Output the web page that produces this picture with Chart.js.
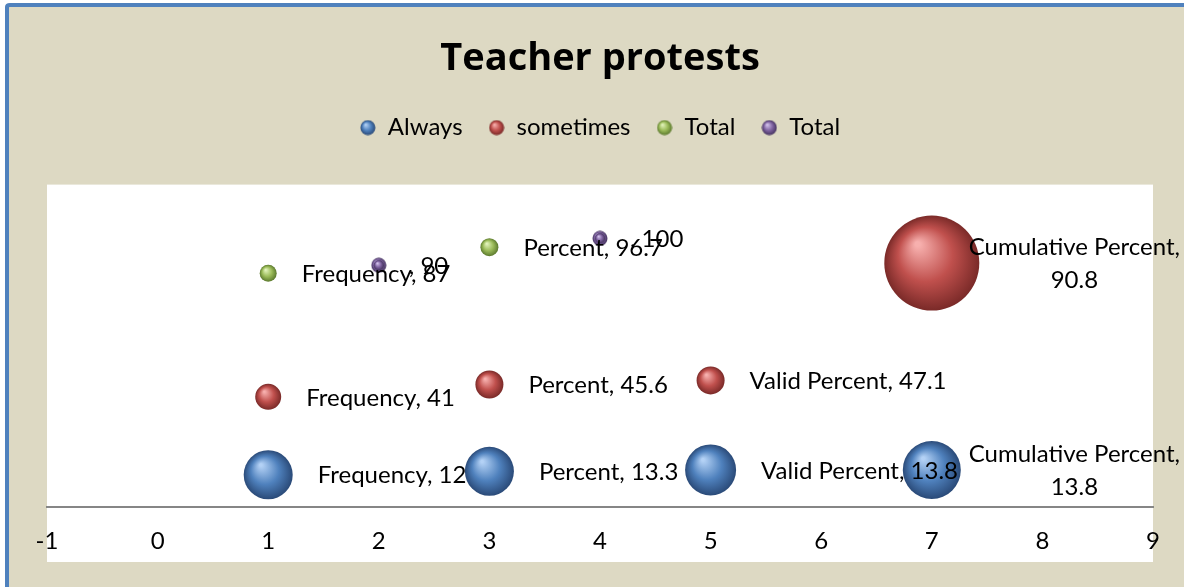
<!DOCTYPE html>
<html>
<head>
<meta charset="utf-8">
<script src="https://cdn.jsdelivr.net/npm/chart.js@4/dist/chart.umd.min.js"></script>
<style>
  html, body { margin: 0; padding: 0; background: #fff; }
  #wrap { width: 1184px; height: 587px; }
</style>
</head>
<body>
<div id="wrap"><canvas id="grafica" width="1184" height="587"></canvas></div>
<script>
// Datos
var categorias = ['Frequency', 'Percent', 'Valid Percent', 'Cumulative Percent'];
var xTicks = [-1, 0, 1, 2, 3, 4, 5, 6, 7, 8, 9];

var alwaysX = [1, 3, 5, 7];
var alwaysY = [12, 13.3, 13.8, 13.8];
var alwaysSize = [24.5, 24.5, 25.5, 29];
var alwaysLabels = ['Frequency', 'Percent', 'Valid Percent', 'Cumulative Percent'];

var sometimesX = [1, 3, 5, 7];
var sometimesY = [41, 45.6, 47.1, 90.8];
var sometimesSize = [13, 14, 14, 47.5];
var sometimesLabels = ['Frequency', 'Percent', 'Valid Percent', 'Cumulative Percent'];

var total1X = [1, 3];
var total1Y = [87, 96.7];
var total1Size = [8.5, 9];
var total1Labels = ['Frequency', 'Percent'];

var total2X = [2, 4];
var total2Y = [90, 100];
var total2Size = [5, 5];
var total2Labels = ['', ''];

var colores = {
    blue: ['#b3d1f5', '#4f81bd', '#2a4a78'],
    red: ['#f7b0ae', '#c0504d', '#7a2a28'],
    green: ['#e2f3bb', '#9bbb59', '#5c7a2e'],
    purple: ['#d3c3ec', '#8064a2', '#45335f']
};

var FUENTE = 'Lato, "Open Sans", sans-serif';
var TAM = 24;

// Construir puntos de burbuja
function puntos(xs, ys, rs, labels) {
    return xs.map(function (x, i) {
        return { x: x, y: ys[i], r: rs[i], etiqueta: labels[i] };
    });
}

// Esfera con degradado radial
function esfera(ctx, cx, cy, r, c) {
    var g = ctx.createRadialGradient(cx - r * 0.3, cy - r * 0.4, r * 0.05, cx, cy, r);
    g.addColorStop(0, c[0]);
    g.addColorStop(0.55, c[1]);
    g.addColorStop(1, c[2]);
    ctx.beginPath();
    ctx.arc(cx, cy, r, 0, Math.PI * 2);
    ctx.fillStyle = g;
    ctx.fill();
}

function iconoLeyenda(c) {
    var cv = document.createElement('canvas');
    cv.width = 16; cv.height = 16;
    esfera(cv.getContext('2d'), 8, 8, 7.5, c);
    return cv;
}

// Espacio extra debajo de la leyenda
var margenLeyenda = {
    id: 'margenLeyenda',
    beforeInit: function (chart) {
        var fit = chart.legend.fit;
        chart.legend.fit = function () {
            fit.bind(chart.legend)();
            this.height += 35;
        };
    }
};

var fondoPlugin = {
    id: 'fondo',
    beforeDraw: function (chart) {
        var ctx = chart.ctx, a = chart.chartArea;
        ctx.save();
        ctx.fillStyle = '#ffffff';
        ctx.fillRect(0, 0, chart.width, chart.height);
        ctx.fillStyle = '#ddd9c3';
        ctx.fillRect(7, 5, chart.width, chart.height);
        ctx.strokeStyle = '#4f81bd';
        ctx.lineWidth = 4;
        ctx.beginPath();
        ctx.moveTo(7, chart.height + 5);
        ctx.lineTo(7, 7);
        ctx.quadraticCurveTo(7, 5, 10, 5);
        ctx.lineTo(chart.width + 5, 5);
        ctx.stroke();
        ctx.fillStyle = '#ffffff';
        ctx.fillRect(a.left, a.top, a.right - a.left, a.bottom - a.top + 55);
        ctx.restore();
    }
};

var burbujasPlugin = {
    id: 'burbujas',
    afterDatasetsDraw: function (chart) {
        var ctx = chart.ctx;
        ctx.save();
        var orden = [3, 2, 1, 0];
        orden.forEach(function (di) {
            var meta = chart.getDatasetMeta(di);
            var c = chart.data.datasets[di].sphereColor;
            meta.data.forEach(function (el) {
                esfera(ctx, el.x, el.y, el.options.radius, c);
            });
        });
        // Etiquetas de datos
        ctx.font = TAM + 'px ' + FUENTE;
        ctx.fillStyle = '#000';
        ctx.textBaseline = 'middle';
        chart.data.datasets.forEach(function (ds, di) {
            var meta = chart.getDatasetMeta(di);
            meta.data.forEach(function (el, i) {
                var p = ds.data[i];
                var txt = p.etiqueta + ', ' + p.y;
                var x0 = el.x + el.options.radius + 25;
                var w = ctx.measureText(txt).width;
                if (x0 + w > chart.width - 4) {
                    var l1 = p.etiqueta + ',', l2 = String(p.y);
                    var mw = Math.max(ctx.measureText(l1).width, ctx.measureText(l2).width);
                    var cx = chart.width - 4 - mw / 2;
                    ctx.textAlign = 'center';
                    ctx.fillText(l1, cx, el.y - 16);
                    ctx.fillText(l2, cx, el.y + 17);
                } else {
                    ctx.textAlign = 'left';
                    ctx.fillText(txt, x0, el.y + 1);
                }
            });
        });
        ctx.restore();
    }
};

function serie(nombre, data, c) {
    return {
        label: nombre,
        data: data,
        sphereColor: c,
        backgroundColor: 'rgba(0,0,0,0)',
        borderWidth: 0,
        pointStyle: iconoLeyenda(c)
    };
}

var ctx = document.getElementById('grafica').getContext('2d');
var grafica = new Chart(ctx, {
    type: 'bubble',
    data: {
        datasets: [
            serie('Always', puntos(alwaysX, alwaysY, alwaysSize, alwaysLabels), colores.blue),
            serie('sometimes', puntos(sometimesX, sometimesY, sometimesSize, sometimesLabels), colores.red),
            serie('Total', puntos(total1X, total1Y, total1Size, total1Labels), colores.green),
            serie('Total', puntos(total2X, total2Y, total2Size, total2Labels), colores.purple)
        ]
    },
    options: {
        responsive: false,
        animation: false,
        events: [],
        layout: { autoPadding: false, padding: { left: 47, right: 31, top: 36, bottom: 0 } },
        plugins: {
            title: {
                display: true,
                text: 'Teacher protests',
                color: '#000',
                font: { family: '"Open Sans", Lato, sans-serif', size: 38, weight: 'bold' },
                padding: { top: 0, bottom: 8 }
            },
            legend: {
                display: true,
                labels: {
                    usePointStyle: true,
                    boxWidth: 16,
                    boxHeight: 16,
                    padding: 26,
                    color: '#000',
                    font: { family: FUENTE, size: TAM }
                }
            },
            tooltip: { enabled: false }
        },
        scales: {
            x: {
                type: 'linear',
                min: -1,
                max: 9,
                afterBuildTicks: function (scale) {
                    scale.ticks = xTicks.map(function (v) { return { value: v }; });
                },
                afterFit: function (scale) { scale.height = 80; },
                grid: { display: false },
                border: { display: true, color: '#868686', width: 2 },
                ticks: { color: '#000', padding: 12, font: { family: FUENTE, size: TAM } }
            },
            y: {
                display: false,
                min: 0,
                max: 120
            }
        }
    },
    plugins: [margenLeyenda, fondoPlugin, burbujasPlugin]
});
</script>
</body>
</html>
